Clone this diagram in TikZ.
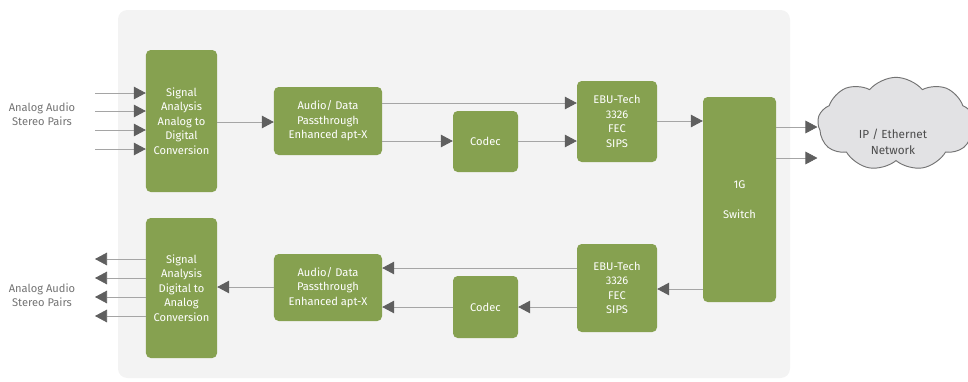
\documentclass[tikz,border=0pt]{standalone}
\usepackage{fontspec}
\setmainfont{Fira Sans}
\usetikzlibrary{shapes,arrows.meta,positioning,calc,backgrounds}
\definecolor{boxgreen}{RGB}{134,161,80}
\definecolor{linegray}{RGB}{165,165,165}
\definecolor{tipgray}{RGB}{95,95,95}
\definecolor{panelgray}{RGB}{243,243,243}
\definecolor{cloudgray}{RGB}{226,226,228}

\begin{document}
\begin{tikzpicture}[
    x=0.03cm, y=-0.03cm,
    block/.style={rectangle, rounded corners=4pt, fill=boxgreen, text=white, align=center,
      inner sep=1pt, font=\fontsize{9.5}{12.4}\selectfont},
    edge/.style={-{Triangle[length=0.36cm, width=0.38cm, color=tipgray]}, draw=linegray, line width=0.6pt},
    label/.style={align=center, text=black!55, font=\fontsize{9.5}{11.8}\selectfont},
]
\useasboundingbox (0,0) rectangle (968,381);

% Panel
\fill[panelgray, rounded corners=8pt] (118,10) rectangle (790,378);

% Layers
\node[block, minimum width=2.13cm, minimum height=4.26cm] (sig1) at (181.5,121) {Signal\\Analysis\\Analog to\\Digital\\Conversion};
\node[block, minimum width=3.24cm, minimum height=2.04cm] (pass1) at (328,121) {Audio/ Data\\Passthrough\\Enhanced apt-X};
\node[block, minimum width=1.95cm, minimum height=1.83cm] (codec1) at (485.5,141.5) {Codec};
\node[block, minimum width=2.40cm, minimum height=2.43cm] (ebu1) at (617,121.5) {EBU-Tech\\3326\\FEC\\SIPS};

\node[block, minimum width=2.13cm, minimum height=4.20cm] (sig2) at (181.5,288) {Signal\\Analysis\\Digital to\\Analog\\Conversion};
\node[block, minimum width=3.24cm, minimum height=2.01cm] (pass2) at (328,287.5) {Audio/ Data\\Passthrough\\Enhanced apt-X};
\node[block, minimum width=1.95cm, minimum height=1.86cm] (codec2) at (485.5,307) {Codec};
\node[block, minimum width=2.40cm, minimum height=2.64cm] (ebu2) at (617,288) {EBU-Tech\\3326\\FEC\\SIPS};

\node[block, minimum width=2.19cm, minimum height=6.15cm, font=\fontsize{9.5}{26}\selectfont] (switch) at (739.5,199.5) {1G\\Switch};

\node[cloud, cloud puffs=9, cloud puff arc=100, aspect=1.7, draw=black!55, line width=0.8pt, fill=cloudgray,
  minimum width=4.7cm, minimum height=2.8cm] (net) at (896,124) {};
\node[align=center, text=black!70, font=\fontsize{10}{14}\selectfont] (netlbl) at (893,142) {IP / Ethernet\\Network};

\node[label] (inlbl) at (42,114) {Analog Audio\\Stereo Pairs};
\node[label] (outlbl) at (42,295) {Analog Audio\\Stereo Pairs};

% Stereo pairs
\foreach \i/\y in {1/93, 2/111, 3/130, 4/149} {
  \coordinate (in\i) at (95,\y);
  \draw[edge] (in\i) -- (sig1.west |- in\i);
}
\foreach \i/\y in {1/259, 2/278, 3/297, 4/316} {
  \coordinate (out\i) at (95,\y);
  \draw[edge] (sig2.west |- out\i) -- (out\i);
}

% Transmit path
\draw[edge] (sig1.east |- 0,122) -- (pass1.west |- 0,122);
\draw[edge] (pass1.east |- 0,103) -- (ebu1.west |- 0,103);
\draw[edge] (pass1.east |- 0,141) -- (codec1.west |- 0,141);
\draw[edge] (codec1.east |- 0,141) -- (ebu1.west |- 0,141);
\draw[edge] (ebu1.east |- 0,121) -- (switch.west |- 0,121);
\draw[edge] (switch.east |- 0,127) -- (net.west |- 0,127);
\draw[edge] (switch.east |- 0,158) -- (net.west |- 0,158);

% Receive path
\draw[edge] (switch.west |- 0,289) -- (ebu2.east |- 0,289);
\draw[edge] (ebu2.west |- 0,268) -- (pass2.east |- 0,268);
\draw[edge] (ebu2.west |- 0,307) -- (codec2.east |- 0,307);
\draw[edge] (codec2.west |- 0,307) -- (pass2.east |- 0,307);
\draw[edge] (pass2.west |- 0,287) -- (sig2.east |- 0,287);

\end{tikzpicture}
\end{document}
